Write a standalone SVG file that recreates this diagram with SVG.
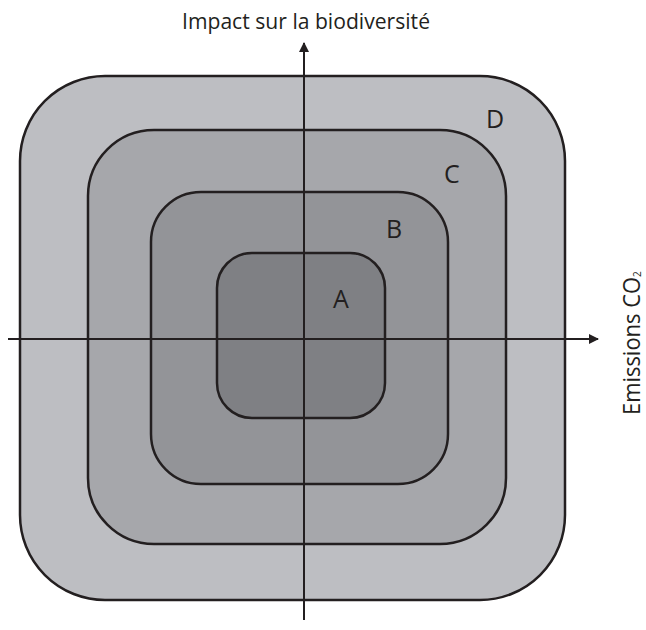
<svg xmlns="http://www.w3.org/2000/svg" width="646" height="630" viewBox="0 0 646 630">
<defs>
<style>
.zone{stroke:#231f20;stroke-width:2.5}
.axis{stroke:#231f20;stroke-width:2;fill:none}
.lbl{font-family:"Open Sans","Liberation Sans",sans-serif;font-size:25px;fill:#231f20}
.ttl{font-family:"Open Sans","Liberation Sans",sans-serif;font-size:21px;fill:#231f20}
</style>
<marker id="arr" viewBox="0 0 10 10" refX="9" refY="5" markerWidth="10" markerHeight="10" markerUnits="userSpaceOnUse" orient="auto">
<path d="M0,0 L10,5 L0,10 Z" fill="#231f20"/>
</marker>
</defs>
<rect width="646" height="630" fill="#fff"/>
<g id="D"><rect class="zone" x="20" y="76" width="545" height="524" rx="85" ry="85" fill="#bdbec2"/><text class="lbl" x="486" y="128">D</text></g>
<g id="C"><rect class="zone" x="88" y="130" width="418" height="414" rx="66" ry="66" fill="#a6a7ab"/><text class="lbl" x="444" y="183">C</text></g>
<g id="B"><rect class="zone" x="151" y="192" width="297" height="292" rx="50" ry="50" fill="#939498"/><text class="lbl" x="386" y="238">B</text></g>
<g id="A"><rect class="zone" x="217" y="253" width="168" height="165" rx="35" ry="35" fill="#7f8084"/><text class="lbl" x="333" y="308">A</text></g>
<g id="axes">
<line class="axis" x1="8" y1="339" x2="598" y2="339" marker-end="url(#arr)"/>
<line class="axis" x1="304" y1="620" x2="304" y2="43" marker-end="url(#arr)"/>
</g>
<g id="titles">
<text class="ttl" x="182" y="29" textLength="248" lengthAdjust="spacingAndGlyphs">Impact sur la biodiversité</text>
<text class="ttl" style="font-size:23px" transform="translate(640,415) rotate(-90)"><tspan textLength="138" lengthAdjust="spacingAndGlyphs">Emissions CO</tspan><tspan font-size="10" dy="1">2</tspan></text>
</g>
</svg>
